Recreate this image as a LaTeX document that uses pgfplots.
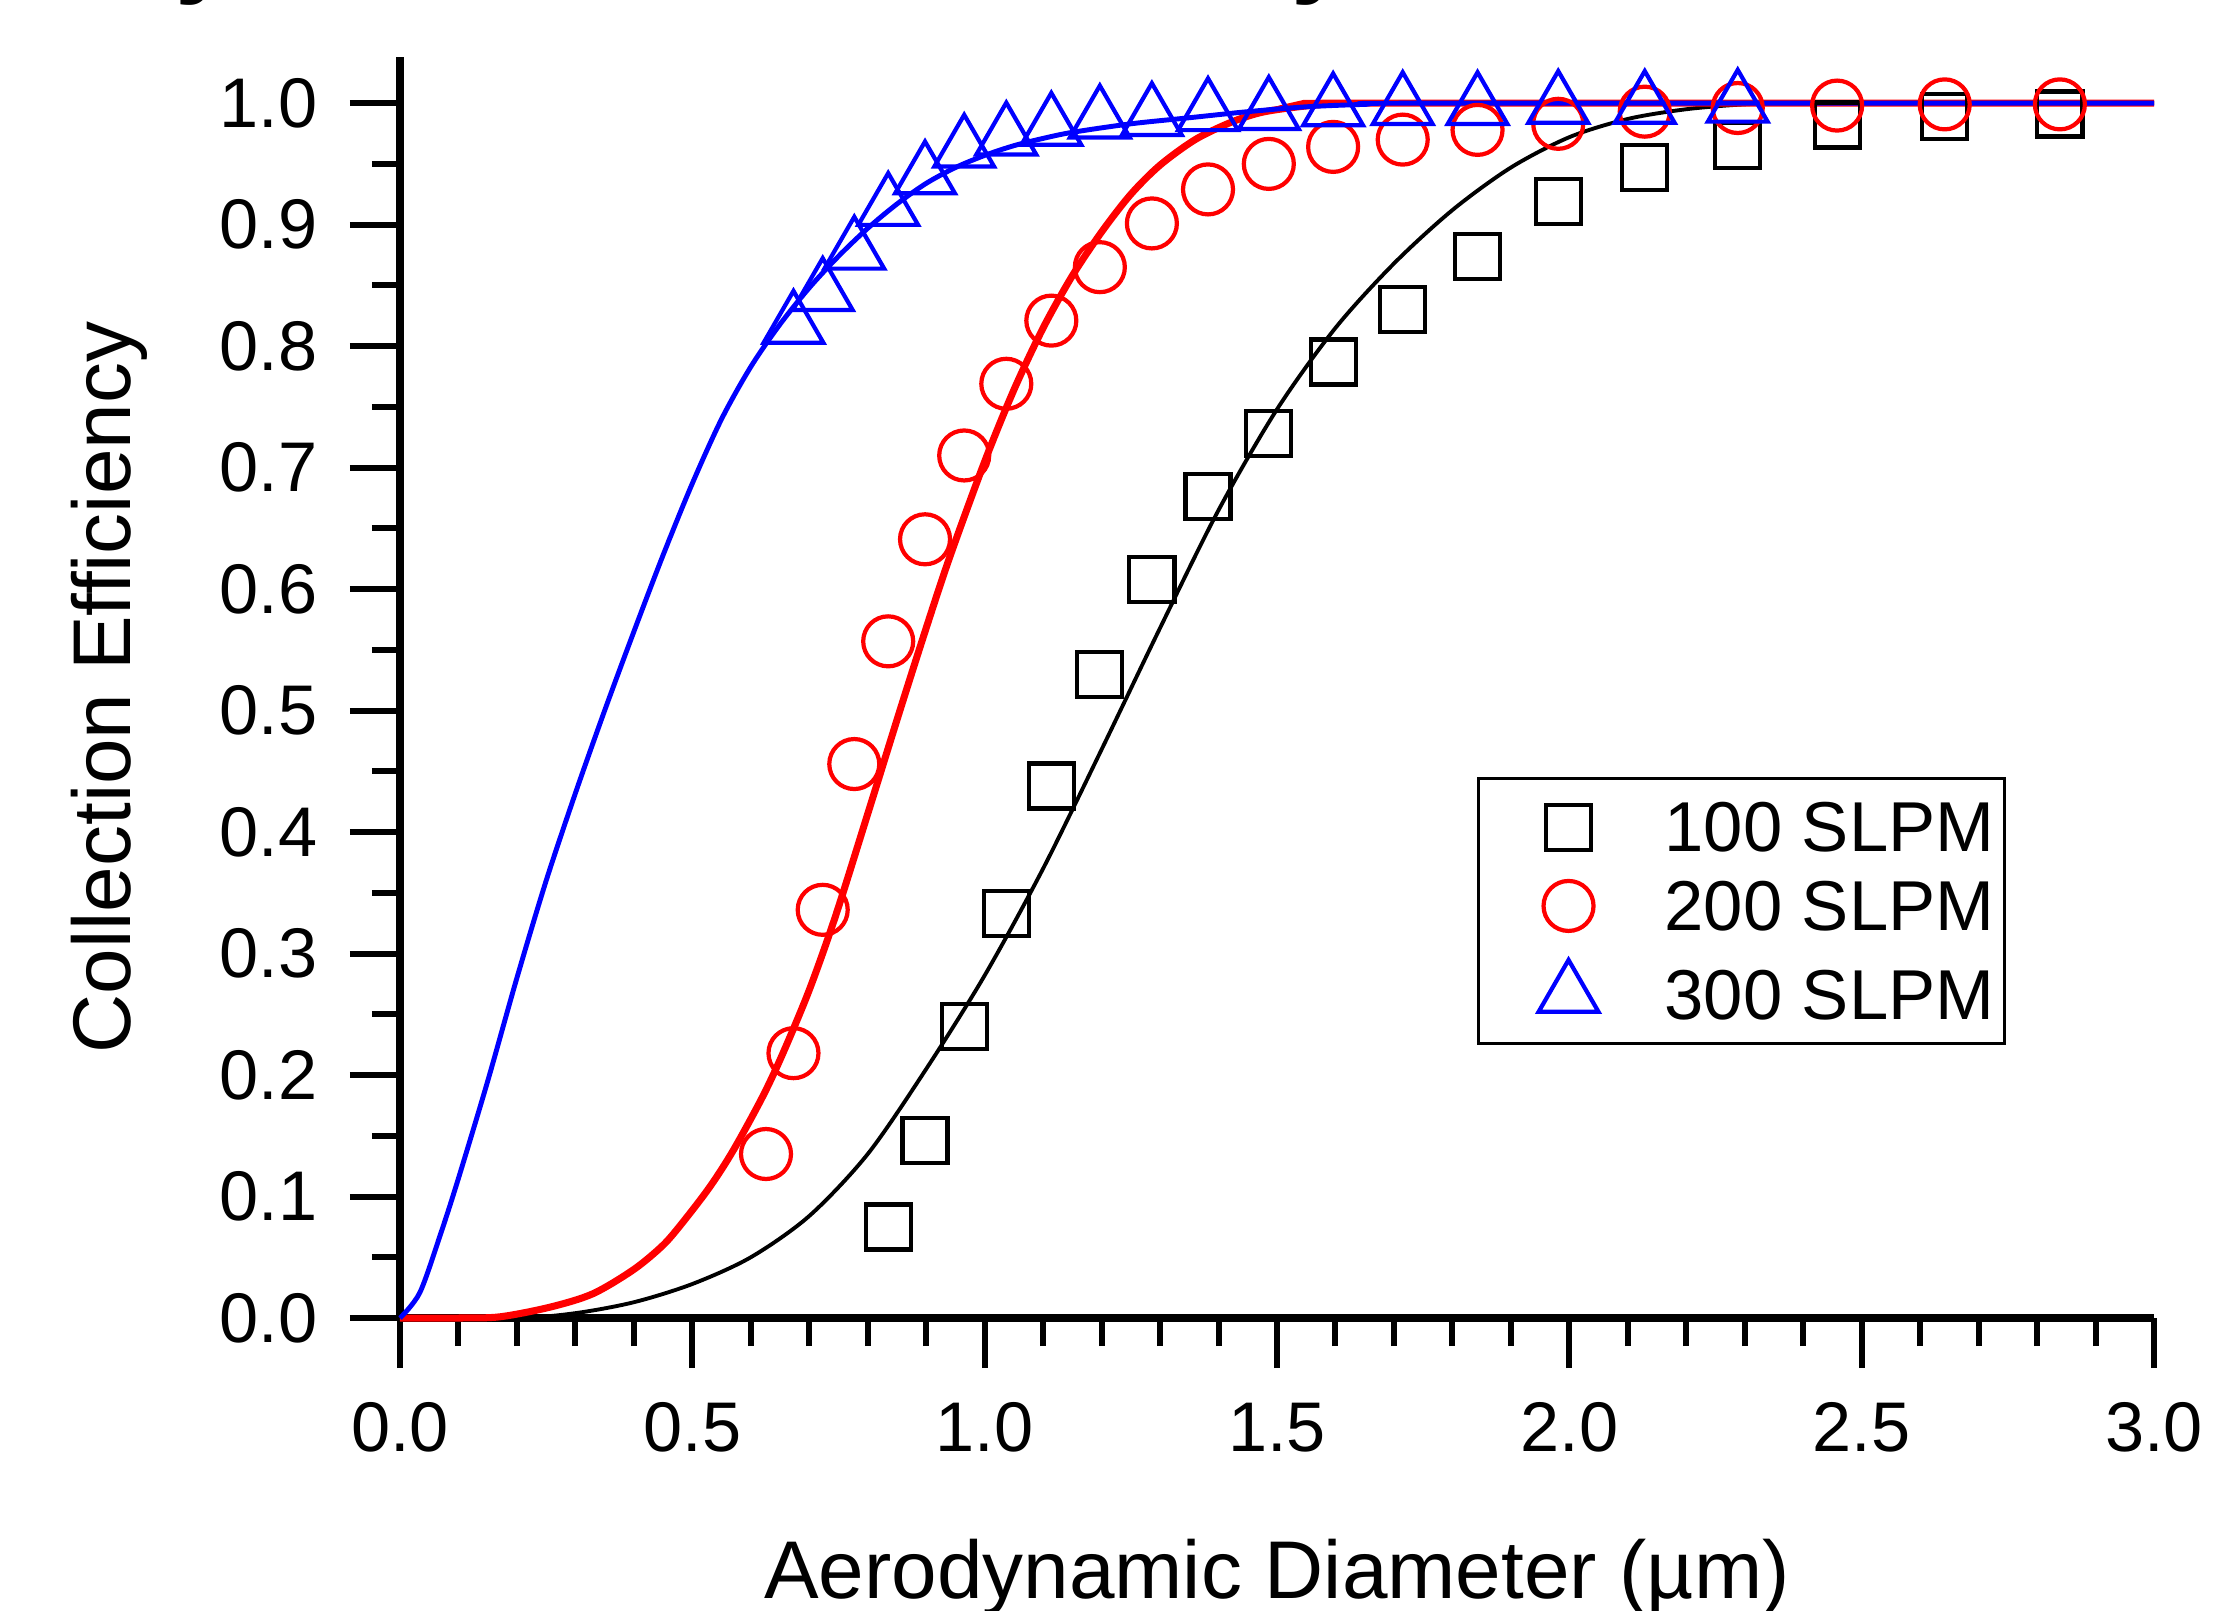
\documentclass[border=0pt]{standalone}
\usepackage{fontspec}
\setmainfont{Liberation Sans}
\usepackage{pgfplots}
\pgfplotsset{compat=1.18}

\begin{document}
\begin{tikzpicture}
\useasboundingbox (-40mm,-29.2mm) rectangle (181.5mm,131.8mm);
\begin{axis}[at={(0,0)},anchor=south west,
  width=175.4mm,height=126.1mm,scale only axis,
  xmin=0,xmax=3,ymin=0,ymax=1.038,clip=false,
  axis lines=left,axis line style={-,line width=2.1pt},
  tick align=outside,major tick length=5mm,minor tick length=2.8mm,
  every tick/.style={black,line width=1.7pt},
  xtick={0,0.5,1,1.5,2,2.5,3},minor x tick num=4,
  ytick={0,0.1,0.2,0.3,0.4,0.5,0.6,0.7,0.8,0.9,1.0},minor y tick num=1,
  xticklabel style={anchor=north,inner sep=0pt,yshift=-3.4mm},
  yticklabel style={anchor=east,inner sep=0pt,xshift=-3.2mm},
  tick label style={font=\fontsize{20}{24}\selectfont,
    /pgf/number format/fixed,/pgf/number format/fixed zerofill,
    /pgf/number format/precision=1,/pgf/number format/assume math mode=true},
  xlabel={Aerodynamic Diameter (µm)},
  ylabel={Collection Efficiency},
  every axis x label/.style={at={(axis description cs:0.5,-0.2228)},anchor=base},
  every axis y label/.style={at={(axis description cs:-0.1539,0.5)},rotate=90,anchor=base},
  label style={font=\fontsize{23.3}{28}\selectfont},
  legend cell align=left,
  legend style={at={(rel axis cs:0.614,0.429)},anchor=north west,draw=black,
    line width=0.9pt,fill=white,inner xsep=1.0mm,inner ysep=2.4mm,row sep=2.9mm,
    font=\fontsize{20.1}{24}\selectfont,nodes={inner sep=0pt,text depth=0pt}},
  legend image code/.code={\path[draw=none] (0,0) -- (17.6mm,0);
    \draw[#1] plot coordinates {(8.0mm,0mm)};},
]
% measured points
\addplot[only marks,black,mark=square,mark size=2.25mm,mark options={line width=1.2pt}]
  coordinates {(0.835,0.075) (0.898,0.146) (0.965,0.240) (1.037,0.333) (1.114,0.438)
  (1.197,0.530) (1.286,0.608) (1.382,0.676) (1.486,0.728) (1.596,0.787) (1.715,0.830)
  (1.843,0.874) (1.981,0.919) (2.129,0.947) (2.288,0.965) (2.458,0.982) (2.642,0.989)
  (2.839,0.991)};
\addlegendentry{100 SLPM}
\addplot[only marks,red,mark=o,mark size=2.5mm,mark options={line width=1.2pt}]
  coordinates {(0.626,0.135) (0.673,0.218) (0.723,0.336) (0.777,0.456) (0.835,0.557)
  (0.898,0.641) (0.965,0.710) (1.037,0.769) (1.114,0.821) (1.197,0.865) (1.286,0.901)
  (1.382,0.929) (1.486,0.950) (1.596,0.964) (1.715,0.970) (1.843,0.978) (1.981,0.983)
  (2.129,0.993) (2.288,0.996) (2.458,0.998) (2.642,0.999) (2.839,0.999)};
\addlegendentry{200 SLPM}
\addplot[only marks,blue,mark=triangle,mark size=3.45mm,mark options={line width=1.2pt}]
  coordinates {(0.673,0.817) (0.723,0.844) (0.777,0.878) (0.835,0.914) (0.898,0.940)
  (0.965,0.962) (1.037,0.972) (1.114,0.980) (1.197,0.986) (1.286,0.988) (1.382,0.992)
  (1.486,0.993) (1.596,0.996) (1.715,0.997) (1.843,0.997) (1.981,0.998) (2.129,0.998)
  (2.288,0.999)};
\addlegendentry{300 SLPM}
% model curves
\addplot[black,line width=1.1pt,smooth,tension=0.5,forget plot] coordinates {
  (0,0) (0.20,0.000) (0.30,0.004) (0.40,0.013) (0.50,0.028) (0.60,0.050) (0.70,0.084)
  (0.80,0.135) (0.90,0.205) (1.00,0.282) (1.10,0.370) (1.20,0.468) (1.30,0.568)
  (1.40,0.665) (1.50,0.748) (1.60,0.815) (1.70,0.868) (1.80,0.912) (1.90,0.947)
  (2.00,0.972) (2.10,0.987) (2.20,0.995) (2.30,0.999) (2.40,1.0) (3.0,1.0)};
\addplot[red,line width=2pt,smooth,tension=0.5,forget plot] coordinates {
  (0,0) (0.10,0.000) (0.171,0.001) (0.257,0.009) (0.330,0.020) (0.40,0.040) (0.45,0.060)
  (0.484,0.079) (0.53,0.108) (0.57,0.138) (0.62,0.182) (0.655,0.218) (0.70,0.270)
  (0.745,0.331) (0.80,0.415) (0.855,0.500) (0.90,0.568) (0.94,0.626) (1.00,0.705)
  (1.05,0.764) (1.10,0.815) (1.15,0.858) (1.20,0.894) (1.25,0.925) (1.30,0.949)
  (1.36,0.970) (1.42,0.984) (1.47,0.992) (1.52,0.996) (1.58,0.999) (1.65,1.0) (3.0,1.0)};
\addplot[blue,line width=1.4pt,smooth,tension=0.5,forget plot] coordinates {
  (0,0) (0.034,0.021) (0.07,0.070) (0.10,0.115) (0.15,0.195) (0.20,0.280) (0.25,0.360)
  (0.30,0.432) (0.35,0.500) (0.40,0.565) (0.45,0.628) (0.50,0.687) (0.55,0.740)
  (0.60,0.783) (0.65,0.818) (0.70,0.848) (0.75,0.874) (0.80,0.897) (0.85,0.917)
  (0.90,0.934) (0.95,0.947) (1.00,0.957) (1.05,0.965) (1.10,0.971) (1.15,0.976)
  (1.25,0.983) (1.35,0.988) (1.45,0.993) (1.55,0.997) (1.65,0.999) (1.75,1.0) (3.0,1.0)};
\end{axis}
% tails of the title line cut off at the top edge
\node[anchor=base west,inner sep=0pt,font=\fontsize{30}{30}\selectfont\bfseries] at (-22.5mm,133.4mm) {y};
\node[anchor=base west,inner sep=0pt,font=\fontsize{30}{30}\selectfont\bfseries] at (89.1mm,133.4mm) {y};
\end{tikzpicture}
\end{document}
